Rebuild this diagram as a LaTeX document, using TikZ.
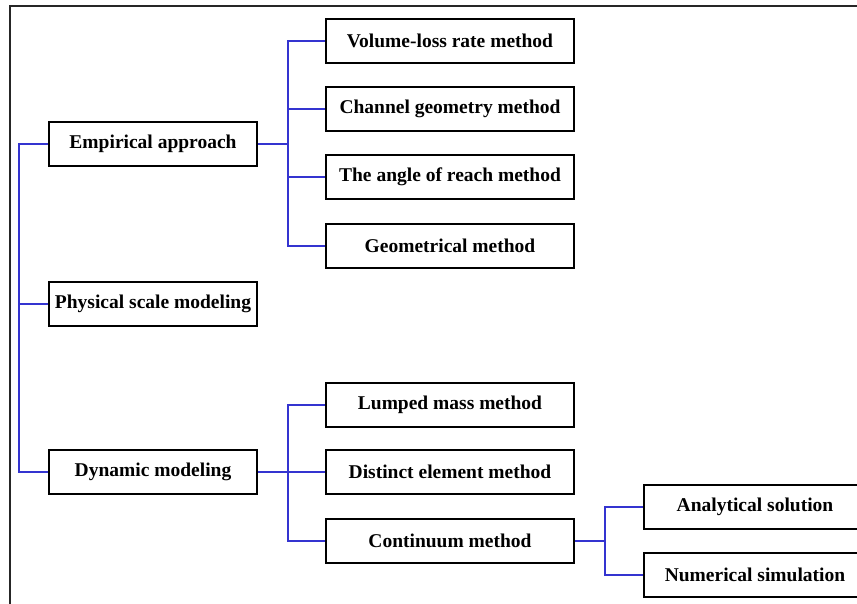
\documentclass[tikz,border=0pt]{standalone}
\usepackage{fontspec}
\setmainfont{Liberation Serif}
\definecolor{linkblue}{RGB}{52,52,208}
\begin{document}
\begin{tikzpicture}[x=1pt,y=-1pt,
    box/.style={draw=black,line width=2pt,inner sep=0pt,minimum height=44pt,
        font=\bfseries\fontsize{19.5}{23}\selectfont},
    leftbox/.style={box,minimum width=208pt},
    midbox/.style={box,minimum width=248pt},
    rightbox/.style={box,minimum width=222pt},
    link/.style={linkblue,line width=2pt}]
\useasboundingbox (0,0) rectangle (857,604);
\clip (0,0) rectangle (857,604);
\draw[line width=2pt,black!85] (10,610) -- (10,6.5) -- (870,6.5);
% first level
\node[leftbox] (emp) at (153,144) {Empirical approach};
\node[leftbox] (phys) at (153,303.5) {Physical scale modeling};
\node[leftbox] (dyn) at (153,472) {Dynamic modeling};
% second level
\node[midbox] (vol) at (450,41) {Volume-loss rate method};
\node[midbox] (chan) at (450,109) {Channel geometry method};
\node[midbox] (angle) at (450,177) {The angle of reach method};
\node[midbox] (geom) at (450,246) {Geometrical method};
\node[midbox] (lump) at (450,405) {Lumped mass method};
\node[midbox] (dist) at (450,472) {Distinct element method};
\node[midbox] (cont) at (450,540.5) {Continuum method};
% third level
\node[rightbox] (anal) at (755,507) {Analytical solution};
\node[rightbox] (num) at (755,574.5) {Numerical simulation};
% connectors
\draw[link] (emp.west) -- ++(-29,0) |- (dyn.west);
\draw[link] (phys.west) -- ++(-29,0);
\foreach \t in {vol,chan,angle,geom}
    \draw[link] (emp.east) -- ++(30,0) |- (\t.west);
\foreach \t in {lump,dist,cont}
    \draw[link] (dyn.east) -- ++(30,0) |- (\t.west);
\foreach \t in {anal,num}
    \draw[link] (cont.east) -- ++(30,0) |- (\t.west);
\end{tikzpicture}
\end{document}
